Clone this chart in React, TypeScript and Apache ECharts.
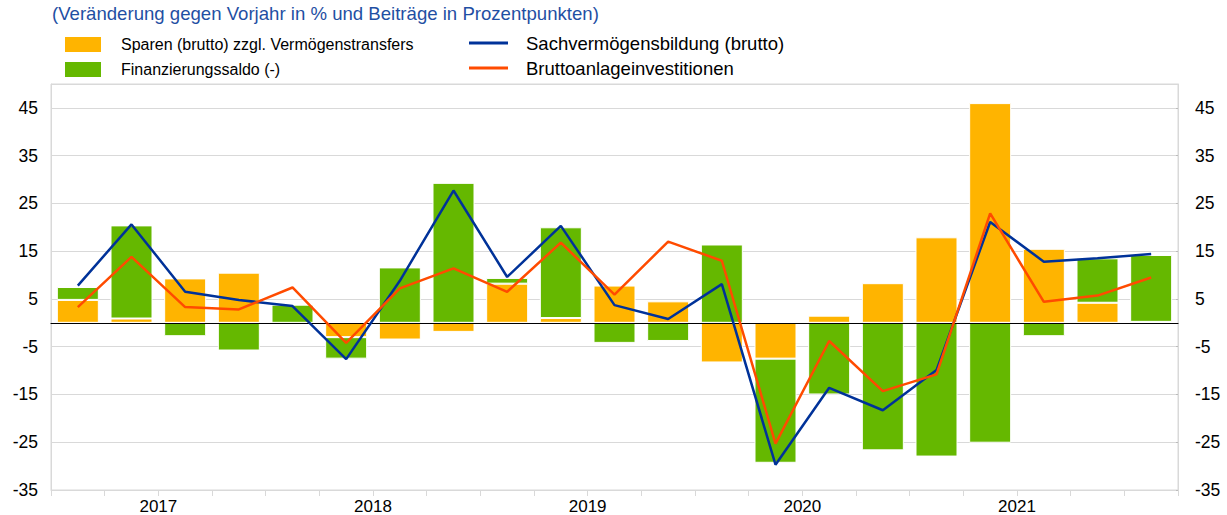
import React, { useEffect, useRef } from "react";
import * as echarts from "echarts";

const quarters: string[] = [
  "2017Q1", "2017Q2", "2017Q3", "2017Q4",
  "2018Q1", "2018Q2", "2018Q3", "2018Q4",
  "2019Q1", "2019Q2", "2019Q3", "2019Q4",
  "2020Q1", "2020Q2", "2020Q3", "2020Q4",
  "2021Q1", "2021Q2", "2021Q3", "2021Q4",
  "2022Q1",
];

const yearLabels: string[] = ["2017", "2018", "2019", "2020", "2021"];

// Sparen (brutto) zzgl. Vermögenstransfers (contribution, pp)
const sparen: number[] = [
  4.8, 0.9, 9.3, 10.5, -0.3, -3.0, -3.5, -1.9, 8.2, 1.0, 7.8, 4.5, -8.3, -7.5, 1.5, 8.3, 17.9, 46.0, 15.5, 4.2, 0.2,
];

// Finanzierungssaldo (-) (contribution, pp)
const finanzierung: number[] = [
  2.7, 19.5, -2.8, -5.8, 3.8, -4.5, 11.6, 29.3, 1.2, 19.0, -4.2, -3.8, 16.4, -21.8, -15.0, -26.7, -28.0, -25.1, -2.8, 9.3, 14.0,
];

// Sachvermögensbildung (brutto), % yoy
const sachverm: number[] = [
  7.8, 20.6, 6.5, 4.8, 3.5, -7.6, 8.8, 27.7, 9.6, 20.3, 3.7, 0.8, 8.1, -29.7, -13.6, -18.3, -9.9, 21.1, 12.8, 13.5, 14.4,
];

// Bruttoanlageinvestitionen, % yoy
const bruttoanlage: number[] = [
  3.3, 13.8, 3.3, 2.8, 7.4, -4.2, 7.2, 11.4, 6.5, 16.8, 5.9, 17.0, 13.0, -25.3, -3.8, -14.3, -10.8, 22.9, 4.4, 5.7, 9.5,
];

const titleText = "(Veränderung gegen Vorjahr in % und Beiträge in Prozentpunkten)";
const nameSparen = "Sparen (brutto) zzgl. Vermögenstransfers";
const nameFin = "Finanzierungssaldo (-)";
const nameSach = "Sachvermögensbildung (brutto)";
const nameBrutto = "Bruttoanlageinvestitionen";

const FONT = "'Liberation Sans', Arial, sans-serif";

export default function App() {
  const ref = useRef<HTMLDivElement>(null);

  useEffect(() => {
    if (!ref.current) return;
    const chart = echarts.init(ref.current, undefined, { renderer: "svg" });

    const yearAt: Record<number, string> = {};
    yearLabels.forEach((y, i) => {
      yearAt[2 + i * 4] = y;
    });

    const option: any = {
      animation: false,
      backgroundColor: "#ffffff",
      textStyle: { fontFamily: FONT },
      title: {
        text: titleText,
        left: 52,
        top: 2,
        padding: [0, 0, 0, 0],
        textStyle: {
          color: "#1f4fa3",
          fontSize: 18.6,
          fontWeight: "normal",
          fontFamily: FONT,
          lineHeight: 22,
        },
      },
      legend: [
        {
          orient: "vertical",
          left: 63,
          top: 35,
          padding: 0,
          itemWidth: 38,
          itemHeight: 17,
          itemGap: 6,
          icon: "rect",
          data: [nameSparen, nameFin],
          textStyle: {
            fontSize: 16,
            color: "#000",
            fontFamily: FONT,
            lineHeight: 17,
            padding: [0, 0, 0, 14],
          },
        },
        {
          orient: "vertical",
          left: 469,
          top: 33,
          padding: 0,
          itemWidth: 39,
          itemHeight: 3,
          itemGap: 5,
          icon: "rect",
          data: [nameSach, nameBrutto],
          textStyle: {
            fontSize: 18.5,
            color: "#000",
            fontFamily: FONT,
            lineHeight: 20,
            padding: [0, 0, 0, 13],
          },
        },
      ],
      grid: {
        left: 51,
        right: 49,
        top: 84,
        bottom: 23,
        show: true,
        borderColor: "#d9d9d9",
        borderWidth: 1,
      },
      xAxis: [
        {
          type: "category",
          data: quarters,
          boundaryGap: true,
          axisLine: { show: true, onZero: true, lineStyle: { color: "#000", width: 1.2 } },
          axisTick: { show: false },
          axisLabel: { show: false },
          splitLine: { show: false },
          z: 5,
        },
        {
          type: "value",
          position: "bottom",
          min: 0,
          max: 21,
          interval: 1,
          axisLine: { show: true, onZero: false, lineStyle: { color: "#d9d9d9" } },
          axisTick: { show: true, length: 6, lineStyle: { color: "#d9d9d9" } },
          splitLine: { show: false },
          axisLabel: {
            show: true,
            margin: 8,
            fontSize: 17,
            color: "#000",
            fontFamily: FONT,
            showMinLabel: true,
            showMaxLabel: true,
            formatter: (v: number) => yearAt[Math.round(v)] || "",
          },
        },
      ],
      yAxis: [
        {
          type: "value",
          position: "left",
          min: -35,
          max: 50,
          interval: 10,
          axisLine: { show: true, lineStyle: { color: "#d9d9d9" } },
          axisTick: { show: false },
          splitLine: { show: true, lineStyle: { color: "#d9d9d9", width: 1 } },
          axisLabel: {
            showMaxLabel: false,
            margin: 13,
            fontSize: 17.5,
            color: "#000",
            fontFamily: FONT,
          },
        },
        {
          type: "value",
          position: "right",
          min: -35,
          max: 50,
          interval: 10,
          axisLine: { show: true, lineStyle: { color: "#d9d9d9" } },
          axisTick: { show: true, inside: true, length: 2, lineStyle: { color: "#bbbbbb" } },
          splitLine: { show: false },
          axisLabel: {
            showMaxLabel: false,
            margin: 17,
            fontSize: 17.5,
            color: "#000",
            fontFamily: FONT,
          },
        },
      ],
      series: [
        {
          name: nameSparen,
          type: "bar",
          stack: "contrib",
          xAxisIndex: 0,
          yAxisIndex: 0,
          data: sparen,
          barWidth: 42,
          itemStyle: { color: "#ffb400", borderColor: "#ffffff", borderWidth: 1 },
        },
        {
          name: nameFin,
          type: "bar",
          stack: "contrib",
          xAxisIndex: 0,
          yAxisIndex: 0,
          data: finanzierung,
          barWidth: 42,
          itemStyle: { color: "#65b800", borderColor: "#ffffff", borderWidth: 1 },
        },
        {
          name: nameSach,
          type: "line",
          xAxisIndex: 0,
          yAxisIndex: 0,
          data: sachverm,
          symbol: "none",
          lineStyle: { color: "#003299", width: 2.5 },
          itemStyle: { color: "#003299" },
          z: 6,
        },
        {
          name: nameBrutto,
          type: "line",
          xAxisIndex: 0,
          yAxisIndex: 0,
          data: bruttoanlage,
          symbol: "none",
          lineStyle: { color: "#ff4b00", width: 2.5 },
          itemStyle: { color: "#ff4b00" },
          z: 7,
        },
      ],
    };

    chart.setOption(option);
    return () => {
      chart.dispose();
    };
  }, []);

  return (
    <div
      ref={ref}
      style={{ position: "absolute", left: 0, top: 0, width: 1227, height: 515, background: "#fff" }}
    />
  );
}
